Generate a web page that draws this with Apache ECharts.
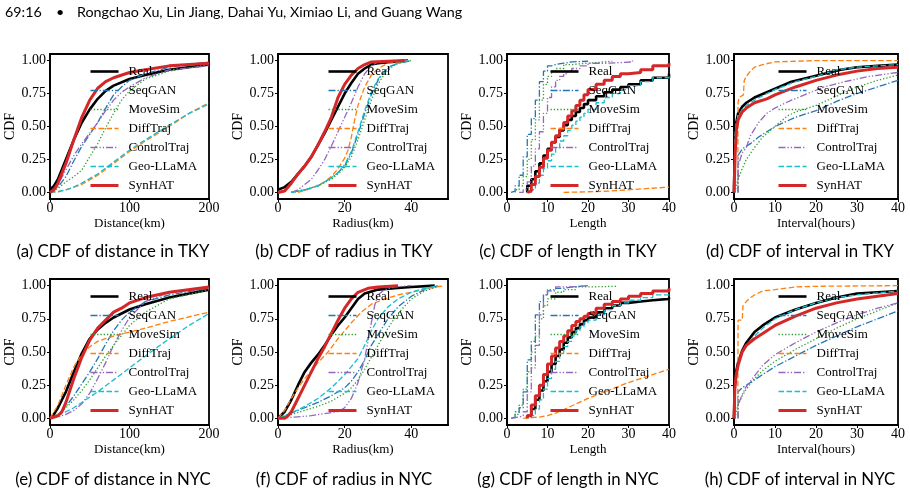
<!DOCTYPE html>
<html lang="en">
<head>
<meta charset="UTF-8">
<title>CDF comparison</title>
<script src="https://cdn.jsdelivr.net/npm/echarts@6/dist/echarts.min.js"></script>
<style>html,body{margin:0;padding:0;background:#fff}</style>
</head>
<body>
<div id="main" style="width:910px;height:496px;"></div>
<script>
// series order = plot order (SynHAT drawn last, on top)
const methods = ['Real', 'SeqGAN', 'MoveSim', 'DiffTraj', 'ControlTraj', 'Geo-LLaMA', 'SynHAT'];
const colors = ['#000000', '#1f77b4', '#2ca02c', '#ff7f0e', '#9467bd', '#17becf', '#d62728'];
const widths = [2.6, 1.3, 1.3, 1.3, 1.3, 1.3, 3];
const dashes = ['solid', [7, 2, 1.3, 2], [1.3, 2], [5.5, 2.5], [7, 2, 1.3, 2, 1.3, 2], [5.5, 2.5], 'solid'];
const yTicks = [0, 0.25, 0.5, 0.75, 1];

// ---- (a) distance TKY, [x, cdf] per method in the order above
const distTKY = [
  [[0,0.02],[5,0.05],[10,0.1],[20,0.25],[30,0.4],[40,0.53],[50,0.63],[60,0.71],[70,0.77],[80,0.81],[100,0.86],[120,0.89],[150,0.93],[200,0.97]],
  [[0,0],[10,0.04],[20,0.12],[30,0.24],[40,0.35],[50,0.44],[60,0.53],[70,0.64],[80,0.74],[90,0.8],[100,0.85],[120,0.9],[150,0.95],[200,0.99]],
  [[0,0],[10,0.03],[20,0.08],[30,0.12],[40,0.17],[50,0.27],[60,0.37],[70,0.49],[80,0.6],[90,0.7],[100,0.77],[120,0.86],[150,0.92],[200,0.97]],
  [[0,0],[10,0.005],[20,0.02],[30,0.04],[40,0.06],[60,0.13],[80,0.22],[100,0.31],[120,0.39],[150,0.5],[175,0.6],[200,0.68]],
  [[0,0],[10,0.06],[20,0.17],[30,0.28],[40,0.37],[50,0.45],[60,0.53],[70,0.62],[80,0.7],[90,0.76],[100,0.8],[120,0.87],[150,0.93],[200,0.96]],
  [[0,0],[10,0.005],[20,0.02],[30,0.04],[40,0.07],[60,0.14],[80,0.23],[100,0.32],[120,0.4],[150,0.51],[175,0.6],[200,0.67]],
  [[0,0],[5,0.02],[10,0.07],[20,0.22],[30,0.4],[40,0.57],[50,0.7],[60,0.79],[70,0.84],[80,0.87],[100,0.91],[120,0.93],[150,0.96],[200,0.98]]
];

// ---- (b) radius TKY
const radTKY = [
  [[0,0.02],[2,0.04],[4,0.08],[6,0.14],[8,0.2],[10,0.27],[12,0.36],[14,0.45],[16,0.55],[18,0.65],[20,0.75],[22,0.83],[24,0.9],[26,0.94],[28,0.97],[30,0.98],[34,0.99],[39,1]],
  [[4,0],[8,0.02],[12,0.05],[16,0.11],[18,0.15],[20,0.2],[22,0.3],[24,0.44],[26,0.6],[28,0.74],[30,0.85],[32,0.92],[34,0.96],[36,0.98],[40,1]],
  [[4,0],[8,0.02],[12,0.05],[16,0.1],[18,0.14],[20,0.19],[22,0.27],[24,0.4],[26,0.55],[28,0.7],[30,0.82],[32,0.9],[34,0.95],[36,0.98],[40,1]],
  [[6,0],[10,0.03],[14,0.08],[16,0.12],[18,0.18],[20,0.26],[21,0.32],[22,0.42],[23,0.55],[24,0.66],[26,0.8],[28,0.89],[30,0.94],[33,0.98],[39,1]],
  [[4,0],[6,0.02],[8,0.06],[10,0.1],[12,0.17],[14,0.25],[16,0.35],[18,0.46],[20,0.57],[22,0.68],[24,0.8],[26,0.9],[28,0.96],[30,0.99],[34,1]],
  [[4,0],[8,0.02],[12,0.05],[16,0.11],[18,0.15],[20,0.21],[22,0.31],[24,0.46],[26,0.62],[28,0.76],[30,0.86],[32,0.92],[34,0.96],[36,0.98],[39,1]],
  [[0,0],[2,0.01],[4,0.07],[6,0.14],[8,0.2],[10,0.27],[12,0.36],[14,0.46],[16,0.57],[18,0.72],[20,0.82],[22,0.89],[24,0.94],[26,0.97],[28,0.99],[38,1]]
];

// ---- (c) length TKY (integer lengths -> staircase)
const lenTKY = [
  [[5,0],[5,0.05],[6,0.1],[7,0.16],[8,0.22],[9,0.28],[10,0.33],[11,0.38],[12,0.42],[13,0.47],[14,0.51],[15,0.55],[16,0.58],[17,0.61],[18,0.64],[19,0.67],[20,0.7],[22,0.73],[24,0.76],[26,0.78],[28,0.8],[30,0.82],[33,0.85],[36,0.87],[40,0.9]],
  [[1,0],[1,0.01],[2,0.05],[3,0.13],[4,0.27],[5,0.44],[6,0.56],[7,0.7],[8,0.84],[9,0.92],[10,0.96],[11,0.97],[12,0.98],[14,0.99],[16,0.995],[20,1]],
  [[2,0],[2,0.02],[3,0.05],[4,0.12],[5,0.25],[6,0.4],[7,0.55],[8,0.7],[9,0.82],[10,0.88],[11,0.92],[12,0.94],[14,0.97],[16,0.98],[20,0.995],[26,1]],
  [[14,0],[20,0.005],[25,0.01],[30,0.02],[35,0.03],[40,0.04]],
  [[3,0],[4,0.02],[5,0.08],[6,0.2],[7,0.33],[8,0.46],[9,0.6],[10,0.72],[11,0.8],[12,0.85],[13,0.88],[14,0.9],[15,0.92],[16,0.94],[18,0.96],[20,0.98],[25,0.99],[31,1]],
  [[6,0],[6,0.02],[7,0.07],[8,0.13],[9,0.18],[10,0.24],[11,0.29],[12,0.34],[13,0.39],[14,0.43],[15,0.47],[16,0.51],[17,0.54],[18,0.57],[19,0.6],[20,0.63],[22,0.68],[24,0.72],[26,0.75],[28,0.78],[30,0.81],[33,0.84],[36,0.87],[40,0.89]],
  [[5,0],[5,0.01],[6,0.06],[7,0.12],[8,0.19],[9,0.26],[10,0.32],[11,0.38],[12,0.43],[13,0.48],[14,0.53],[15,0.58],[16,0.62],[17,0.66],[18,0.7],[19,0.74],[20,0.78],[22,0.82],[24,0.85],[26,0.88],[28,0.9],[30,0.91],[33,0.93],[36,0.96],[40,0.98]]
];

// ---- (d) interval TKY
const intTKY = [
  [[0,0],[0.2,0.4],[0.5,0.52],[1,0.6],[2,0.65],[3,0.68],[5,0.72],[8,0.76],[11,0.8],[14,0.84],[18,0.87],[22,0.9],[26,0.93],[30,0.95],[35,0.96],[40,0.97]],
  [[1,0],[1,0.28],[2,0.33],[4,0.37],[6,0.42],[8,0.46],[10,0.5],[15,0.57],[20,0.62],[25,0.69],[30,0.75],[35,0.8],[40,0.85]],
  [[0.3,0],[0.5,0.05],[1,0.1],[2,0.18],[3,0.25],[5,0.34],[7,0.42],[10,0.5],[13,0.58],[15,0.61],[20,0.66],[25,0.73],[30,0.8],[35,0.85],[40,0.89]],
  [[0.9,0],[1,0.68],[1.2,0.72],[2.3,0.74],[2.5,0.85],[3,0.88],[4,0.92],[5,0.95],[7,0.97],[10,0.99],[20,1],[40,1]],
  [[1,0],[1,0.2],[1.5,0.25],[2,0.3],[3,0.34],[4,0.43],[5,0.48],[6,0.53],[8,0.6],[10,0.64],[14,0.7],[18,0.75],[22,0.8],[27,0.84],[33,0.88],[40,0.91]],
  [[0,0],[0.2,0.42],[0.5,0.52],[1,0.58],[2,0.63],[3,0.66],[5,0.7],[8,0.75],[10,0.78],[15,0.84],[20,0.88],[25,0.93],[30,0.95],[40,0.97]],
  [[0,0],[0.3,0.3],[0.6,0.48],[1,0.55],[2,0.61],[3,0.64],[5,0.68],[8,0.71],[10,0.74],[15,0.8],[20,0.85],[25,0.89],[30,0.92],[35,0.94],[40,0.95]]
];

// ---- (e) distance NYC
const distNYC = [
  [[0,0],[5,0.03],[10,0.08],[20,0.2],[30,0.35],[40,0.49],[50,0.6],[60,0.67],[70,0.72],[80,0.76],[100,0.82],[120,0.86],[150,0.91],[200,0.97]],
  [[0,0],[10,0.03],[20,0.09],[30,0.17],[40,0.26],[50,0.35],[60,0.45],[70,0.56],[80,0.66],[90,0.74],[100,0.8],[120,0.88],[150,0.93],[200,0.98]],
  [[0,0],[10,0.03],[20,0.08],[30,0.14],[40,0.21],[50,0.29],[60,0.38],[70,0.47],[80,0.55],[100,0.7],[120,0.8],[150,0.9],[200,0.97]],
  [[0,0],[10,0.1],[20,0.25],[30,0.39],[40,0.48],[50,0.54],[60,0.58],[80,0.62],[100,0.65],[120,0.68],[150,0.73],[200,0.8]],
  [[0,0],[10,0.01],[20,0.03],[30,0.06],[40,0.11],[50,0.19],[60,0.3],[70,0.42],[80,0.55],[90,0.66],[100,0.76],[120,0.88],[150,0.95],[200,0.98]],
  [[0,0],[10,0.02],[20,0.05],[30,0.08],[40,0.12],[60,0.2],[80,0.29],[100,0.38],[120,0.47],[150,0.6],[175,0.7],[200,0.79]],
  [[0,0],[10,0.02],[15,0.05],[20,0.12],[30,0.3],[40,0.46],[50,0.59],[60,0.68],[70,0.74],[80,0.8],[90,0.83],[100,0.87],[120,0.91],[150,0.95],[200,0.99]]
];

// ---- (f) radius NYC
const radNYC = [
  [[0,0],[2,0.05],[4,0.14],[6,0.25],[8,0.35],[10,0.42],[12,0.48],[14,0.55],[16,0.63],[18,0.7],[20,0.76],[22,0.83],[24,0.9],[26,0.94],[30,0.97],[35,0.98],[40,0.99],[47,1]],
  [[0,0],[4,0.04],[8,0.08],[12,0.12],[16,0.17],[20,0.23],[22,0.28],[24,0.35],[26,0.44],[28,0.55],[30,0.63],[33,0.75],[36,0.84],[40,0.92],[44,0.97],[48,1]],
  [[0,0],[4,0.03],[8,0.06],[12,0.09],[16,0.13],[20,0.19],[22,0.23],[24,0.29],[26,0.37],[28,0.46],[30,0.55],[33,0.68],[36,0.79],[40,0.9],[44,0.96],[49,1]],
  [[0,0],[2,0.06],[4,0.15],[6,0.23],[8,0.3],[10,0.36],[12,0.42],[15,0.5],[18,0.6],[20,0.66],[22,0.72],[25,0.8],[28,0.86],[32,0.9],[36,0.93],[40,0.95],[45,0.98],[50,1]],
  [[0,0],[5,0.01],[10,0.02],[15,0.04],[18,0.05],[20,0.08],[22,0.15],[24,0.27],[26,0.45],[27,0.58],[28,0.72],[29,0.85],[30,0.93],[32,0.97],[35,0.99],[40,1]],
  [[0,0],[4,0.04],[8,0.09],[12,0.15],[16,0.23],[20,0.33],[22,0.39],[24,0.45],[26,0.55],[28,0.66],[30,0.75],[33,0.84],[36,0.9],[40,0.95],[44,0.98],[48,1]],
  [[0,0],[2,0],[3,0.02],[4,0.05],[6,0.15],[8,0.25],[10,0.35],[12,0.45],[14,0.54],[16,0.64],[18,0.74],[20,0.83],[22,0.9],[24,0.95],[27,0.98],[30,0.99],[36,1]]
];

// ---- (g) length NYC
const lenNYC = [
  [[5,0],[5,0.02],[6,0.07],[7,0.14],[8,0.21],[9,0.28],[10,0.35],[11,0.41],[12,0.47],[13,0.52],[14,0.57],[15,0.61],[16,0.65],[17,0.68],[18,0.71],[19,0.74],[20,0.76],[22,0.8],[24,0.83],[26,0.85],[28,0.87],[30,0.88],[33,0.89],[36,0.9],[40,0.91]],
  [[1,0],[1,0.01],[2,0.03],[3,0.08],[4,0.2],[5,0.44],[6,0.58],[7,0.78],[8,0.88],[9,0.93],[10,0.96],[12,0.98],[14,0.99],[16,1],[20,1]],
  [[2,0],[2,0.05],[3,0.1],[4,0.22],[5,0.35],[6,0.5],[7,0.62],[8,0.75],[9,0.85],[10,0.9],[12,0.95],[14,0.97],[17,0.99],[20,0.995],[27,1]],
  [[4,0],[8,0.01],[10,0.02],[12,0.04],[15,0.08],[20,0.15],[25,0.21],[30,0.27],[35,0.32],[40,0.37]],
  [[1,0],[1,0.01],[3,0.02],[4,0.05],[5,0.2],[6,0.38],[7,0.55],[8,0.78],[9,0.93],[10,0.97],[12,0.99],[16,1],[20,1]],
  [[6,0],[6,0.02],[7,0.07],[8,0.14],[9,0.22],[10,0.3],[11,0.37],[12,0.43],[13,0.49],[14,0.54],[15,0.58],[16,0.62],[17,0.66],[18,0.69],[19,0.72],[20,0.74],[22,0.78],[24,0.82],[26,0.85],[28,0.87],[30,0.89],[33,0.91],[36,0.93],[40,0.95]],
  [[5,0],[5,0.02],[6,0.1],[7,0.17],[8,0.25],[9,0.33],[10,0.41],[11,0.47],[12,0.53],[13,0.58],[14,0.62],[15,0.66],[16,0.7],[17,0.73],[18,0.75],[19,0.77],[20,0.79],[22,0.83],[24,0.86],[26,0.88],[28,0.9],[30,0.92],[33,0.94],[36,0.96],[40,0.98]]
];

// ---- (h) interval NYC
const intNYC = [
  [[0,0],[0.2,0.25],[0.5,0.35],[1,0.42],[2,0.51],[3,0.57],[5,0.65],[7,0.7],[10,0.76],[15,0.82],[20,0.87],[25,0.91],[30,0.94],[35,0.95],[40,0.96]],
  [[1,0],[1,0.2],[2,0.23],[3,0.25],[5,0.29],[7,0.33],[10,0.39],[15,0.47],[20,0.55],[25,0.62],[30,0.69],[35,0.75],[40,0.81]],
  [[0.3,0],[0.5,0.05],[1,0.1],[2,0.17],[3,0.22],[5,0.3],[7,0.36],[10,0.43],[15,0.52],[20,0.6],[25,0.68],[30,0.75],[35,0.81],[40,0.87]],
  [[0.9,0],[1,0.74],[2,0.74],[2.2,0.85],[3,0.88],[4,0.91],[5,0.93],[7,0.96],[10,0.97],[15,0.99],[20,0.995],[40,1]],
  [[1,0],[1,0.1],[2,0.18],[3,0.24],[5,0.32],[7,0.4],[10,0.48],[15,0.57],[20,0.65],[25,0.72],[30,0.78],[35,0.83],[40,0.87]],
  [[0,0],[0.2,0.24],[0.5,0.34],[1,0.41],[2,0.5],[3,0.55],[5,0.62],[7,0.68],[10,0.75],[15,0.82],[20,0.87],[25,0.91],[30,0.93],[40,0.96]],
  [[0,0],[0.2,0.22],[0.5,0.32],[1,0.4],[2,0.5],[3,0.55],[5,0.6],[7,0.64],[10,0.7],[15,0.77],[20,0.83],[25,0.87],[30,0.9],[35,0.92],[40,0.94]]
];

const xNames = ['Distance(km)', 'Radius(km)', 'Length', 'Interval(hours)'];
const captions = [
  '(a) CDF of distance in TKY', '(b) CDF of radius in TKY', '(c) CDF of length in TKY', '(d) CDF of interval in TKY',
  '(e) CDF of distance in NYC', '(f) CDF of radius in NYC', '(g) CDF of length in NYC', '(h) CDF of interval in NYC'
];

// layout per column / row
const cols = [
  { left: 50, width: 159, xMax: 200, xTicks: [0, 100, 200], cap: 113, leg: 89 },
  { left: 278, width: 170, xMax: 51, xTicks: [0, 20, 40], cap: 344, leg: 327 },
  { left: 507, width: 162, xMax: 40, xTicks: [0, 10, 20, 30, 40], cap: 568, leg: 549, step: true },
  { left: 734, width: 164, xMax: 40, xTicks: [0, 10, 20, 30, 40], cap: 800, leg: 777 }
];
const rows = [
  { top: 54, height: 145, cap: 252, leg: 65, data: [distTKY, radTKY, lenTKY, intTKY] },
  { top: 279, height: 146, cap: 480, leg: 290, data: [distNYC, radNYC, lenNYC, intNYC] }
];

const serif = 'Liberation Serif';
const sans = 'Lato';
const grids = [], xAxes = [], yAxes = [], series = [], legends = [], graphics = [];

rows.forEach((r, ri) => {
  cols.forEach((c, ci) => {
    const i = ri * 4 + ci;
    grids.push({ left: c.left, top: r.top, width: c.width, height: r.height, show: true, borderColor: '#000', borderWidth: 1.8 });
    xAxes.push({
      gridIndex: i, type: 'value', min: 0, max: c.xMax,
      name: xNames[ci], nameLocation: 'middle', nameGap: 18,
      nameTextStyle: { fontFamily: serif, fontSize: 13, color: '#000' },
      axisLine: { onZero: false, lineStyle: { color: '#000', width: 1.8 } },
      axisTick: { length: 3, customValues: c.xTicks, lineStyle: { color: '#000' } },
      axisLabel: { customValues: c.xTicks, margin: 2, fontFamily: serif, fontSize: 14, color: '#000' },
      splitLine: { show: false }
    });
    yAxes.push({
      gridIndex: i, type: 'value', min: -0.05, max: 1.05,
      name: 'CDF', nameLocation: 'middle', nameGap: 29,
      nameTextStyle: { fontFamily: serif, fontSize: 14, color: '#000' },
      axisLine: { onZero: false, lineStyle: { color: '#000', width: 1.8 } },
      axisTick: { length: 3, customValues: yTicks, lineStyle: { color: '#000' } },
      axisLabel: { customValues: yTicks, margin: 4, fontFamily: serif, fontSize: 14, color: '#000',
        formatter: v => v.toFixed(2) },
      splitLine: { show: false }
    });
    r.data[ci].forEach((pts, mi) => {
      series.push({
        type: 'line', name: methods[mi], xAxisIndex: i, yAxisIndex: i,
        data: pts, symbol: 'none', showSymbol: false, animation: false,
        step: c.step && methods[mi] !== 'DiffTraj' ? 'end' : false,
        lineStyle: { color: colors[mi], width: widths[mi], type: dashes[mi] },
        itemStyle: { color: colors[mi] }
      });
    });
    legends.push({
      left: c.leg, top: r.leg, orient: 'vertical', padding: 0,
      itemWidth: 28, itemHeight: 14, itemGap: 6, selectedMode: false,
      data: methods,
      itemStyle: { opacity: 0 },
      lineStyle: { width: 'inherit' },
      textStyle: { fontFamily: serif, fontSize: 13, color: '#000', padding: [0, 0, 0, 5] }
    });
    graphics.push({
      type: 'text', x: c.cap, y: r.cap,
      style: { text: captions[i], fill: '#000', fontFamily: sans, fontSize: 16.8, align: 'center', verticalAlign: 'middle' }
    });
  });
});

graphics.push(
  { type: 'text', x: 5, y: 12, style: { text: '69:16', fill: '#000', fontFamily: sans, fontSize: 14.3, verticalAlign: 'middle' } },
  { type: 'text', x: 56, y: 12, style: { text: '•', fill: '#000', fontFamily: sans, fontSize: 14.3, verticalAlign: 'middle' } },
  { type: 'text', x: 77, y: 12, style: { text: 'Rongchao Xu, Lin Jiang, Dahai Yu, Ximiao Li, and Guang Wang', fill: '#000', fontFamily: sans, fontSize: 14.3, verticalAlign: 'middle' } }
);

const chart = echarts.init(document.getElementById('main'));
chart.setOption({
  backgroundColor: '#fff',
  animation: false,
  grid: grids,
  xAxis: xAxes,
  yAxis: yAxes,
  legend: legends,
  series: series,
  graphic: graphics
});
</script>
</body>
</html>
